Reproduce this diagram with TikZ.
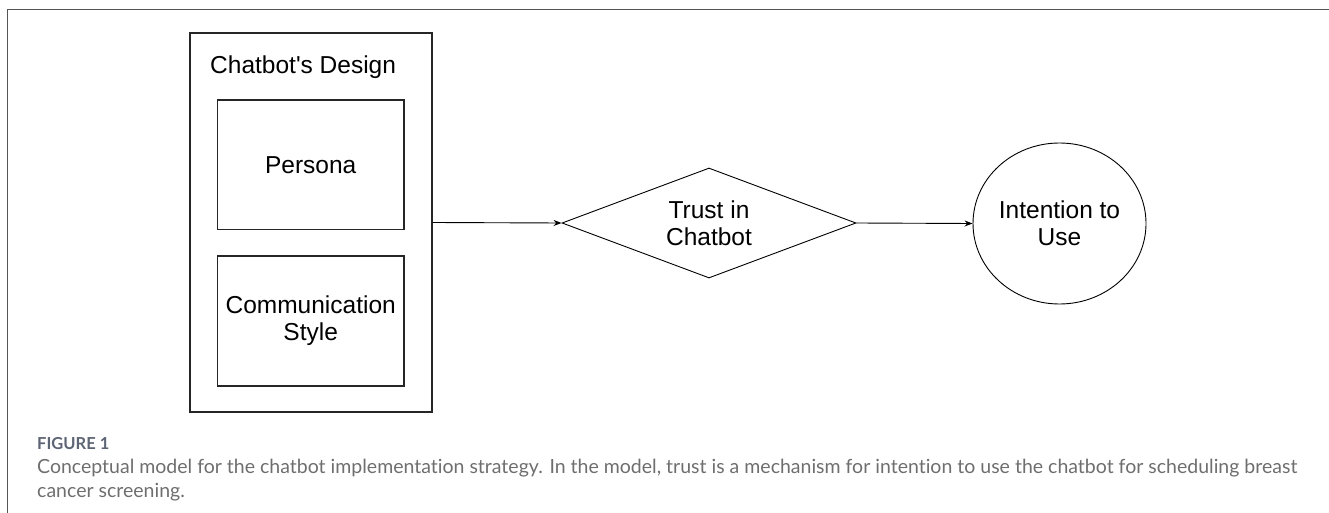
\documentclass[tikz,border=0pt]{standalone}
\usepackage{fontspec}
\setmainfont{Liberation Sans}
\newfontfamily\capfont[Ligatures=NoCommon]{Lato}
\usetikzlibrary{shapes.geometric,arrows.meta}
\definecolor{framegray}{HTML}{555555}
\definecolor{capgray}{HTML}{6E6E6E}
\definecolor{figgray}{HTML}{5D6473}
\tikzset{
  dtext/.style={font=\fontsize{24.5}{27}\selectfont, align=center, text=black},
  boxstyle/.style={draw=black!85, line width=1.2pt, inner sep=0pt},
  conn/.style={draw=black, line width=0.9pt, -{Stealth[length=8pt,width=6pt]}},
}
\begin{document}
\begin{tikzpicture}[x=1pt,y=-1pt]
\useasboundingbox (0,0) rectangle (1329,513);
% page frame
\coordinate (fa) at (1329,9.3);
\coordinate (fb) at (7.3,9.3);
\coordinate (fc) at (7.3,513);
\draw[framegray, line width=1.3pt] (fa) -- (fb) -- (fc);
% outer design box
\node[boxstyle, minimum width=242, minimum height=379] (design) at (311,222.5) {};
\node[dtext, anchor=base west, inner sep=0pt] (title) at (210,73.3) {Chatbot\textquotesingle s Design};
\node[boxstyle, dtext, minimum width=186.5, minimum height=129.5] (persona) at (310.7,164.7) {Persona};
\node[boxstyle, dtext, minimum width=186.5, minimum height=130] (comm) at (310.7,321) {Communication\\Style};
% diamond
\node[draw=black, line width=0.9pt, diamond, aspect=2.67, minimum width=294, minimum height=110, inner sep=0pt, dtext] (trust) at (709,223) {Trust in\\Chatbot};
% ellipse
\node[draw=black, line width=0.9pt, ellipse, minimum width=173, minimum height=161, inner sep=0pt, dtext] (intent) at (1059.5,223.5) {Intention to\\Use};
% connectors
\draw[conn] (design.east) -- (trust.west);
\draw[conn] (trust.east) -- (intent.west);
% caption
\node[anchor=base west, inner sep=0pt, text=figgray, font=\capfont\bfseries\fontsize{16.5}{19}\selectfont] (fig) at (37,449) {FIGURE 1};
\node[anchor=base west, inner sep=0pt, text=capgray, font=\capfont\fontsize{19.5}{24}\selectfont] (cap1) at (37,473) {Conceptual model for the chatbot implementation strategy. In the model, trust is a mechanism for intention to use the chatbot for scheduling breast};
\node[anchor=base west, inner sep=0pt, text=capgray, font=\capfont\fontsize{19.5}{24}\selectfont] (cap2) at (37,497) {cancer screening.};
\end{tikzpicture}
\end{document}
